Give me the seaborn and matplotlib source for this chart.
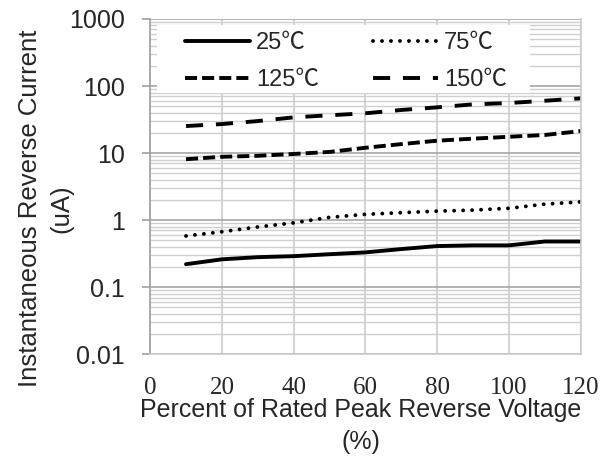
import numpy as np
import pandas as pd
import matplotlib
matplotlib.use("Agg")
import matplotlib.pyplot as plt
import seaborn as sns
from matplotlib.patches import Rectangle
from matplotlib.ticker import FixedLocator, FuncFormatter, LogLocator, NullFormatter

# --- data ---
voltage_pct = [10, 20, 30, 40, 50, 60, 70, 80, 90, 100, 110, 120]
current_25c = [0.22, 0.26, 0.28, 0.29, 0.31, 0.33, 0.37, 0.41, 0.42, 0.42, 0.48, 0.48]
current_75c = [0.58, 0.67, 0.79, 0.91, 1.10, 1.22, 1.29, 1.36, 1.41, 1.50, 1.73, 1.87]
current_125c = [8.1, 8.8, 9.1, 9.7, 10.4, 12.0, 13.6, 15.3, 16.4, 17.5, 18.6, 21.3]
current_150c = [25.3, 27.1, 30.0, 34.1, 36.6, 39.2, 43.9, 48.1, 53.3, 55.8, 60.3, 65.5]
temp_labels = ["25℃", "75℃", "125℃", "150℃"]
x_ticks = [0, 20, 40, 60, 80, 100, 120]
y_ticks = [0.01, 0.1, 1, 10, 100, 1000]

series = [current_25c, current_75c, current_125c, current_150c]
df = pd.concat(
    [pd.DataFrame({"Voltage": voltage_pct, "Current": vals, "Temp": lab})
     for lab, vals in zip(temp_labels, series)],
    ignore_index=True,
)

sns.set_style("white")
plt.rcParams["font.family"] = ["Liberation Sans", "Noto Sans CJK SC", "DejaVu Sans"]

fig = plt.figure(figsize=(6.03, 4.63), dpi=100)
ax = fig.add_axes([0.249, 0.235, 0.714, 0.724])

LW = 2.8
dash_styles = {
    "25℃": "",
    "75℃": (0.01, 2.3),
    "125℃": (3.1, 1.3),
    "150℃": (4.4, 3.3),
}
sns.lineplot(data=df, x="Voltage", y="Current", style="Temp", dashes=dash_styles,
             color="black", linewidth=LW, ax=ax, legend=True)
# dotted series: round caps so the tiny dashes become dots
data_lines = ax.get_lines()
data_lines[temp_labels.index("75℃")].set_dash_capstyle("round")

ax.set_yscale("log")
ax.set_xlim(0, 120)
ax.set_ylim(0.01, 1000)

# grid: vertical at x majors, horizontal at every log minor step
ax.xaxis.set_major_locator(FixedLocator(x_ticks))
ax.yaxis.set_major_locator(FixedLocator(y_ticks))
ax.yaxis.set_minor_locator(LogLocator(base=10, subs=np.arange(2, 10)))
ax.yaxis.set_minor_formatter(NullFormatter())
ax.yaxis.set_major_formatter(FuncFormatter(lambda v, p: f"{v:g}"))
ax.grid(True, which="major", axis="x", color="#cccccc", linewidth=1.2)
ax.grid(True, which="major", axis="y", color="#a6a6a6", linewidth=1.2)
ax.grid(True, which="minor", axis="y", color="#d0d0d0", linewidth=1.0)
ax.set_axisbelow(True)

ax.spines["left"].set_color("#a0a0a0")
ax.spines["left"].set_linewidth(1.2)
for side in ["bottom", "right"]:
    ax.spines[side].set_color("#cccccc")
    ax.spines[side].set_linewidth(1.2)
ax.spines["top"].set_visible(False)

ax.tick_params(axis="y", which="major", left=True, length=6, width=1.2,
               color="#a0a0a0", labelsize=18, pad=12)
ax.tick_params(axis="y", which="minor", left=False)
ax.tick_params(axis="x", which="major", bottom=False, labelsize=18, pad=13)
for lab in ax.get_xticklabels():
    lab.set_family("Liberation Serif")

ax.set_xlabel("Percent of Rated Peak Reverse Voltage\n(%)", fontsize=18,
              linespacing=1.45, va="top")
ax.xaxis.set_label_coords(0.49, -0.13)
ax.set_ylabel("Instantaneous Reverse Current\n(uA)", fontsize=18.5,
              linespacing=1.4)
ax.yaxis.set_label_coords(-0.178, 0.435)

# white legend panel over the grid
ax.add_patch(Rectangle((0.016, 0.779), 0.866, 0.203, transform=ax.transAxes,
                       facecolor="white", edgecolor="none", zorder=2.5))

handles, labels = ax.get_legend_handles_labels()
lookup = dict(zip(labels, handles))
order = ["25℃", "125℃", "75℃", "150℃"]
leg = ax.legend([lookup[k] for k in order], order, ncol=2, loc="upper left",
                bbox_to_anchor=(0.081, 0.96), frameon=False,
                fontsize=17, handlelength=2.75, handletextpad=0.25,
                columnspacing=2.3, borderpad=0, borderaxespad=0,
                labelspacing=0.62)
leg.set_zorder(3)
for line in leg.get_lines():
    line.set_linewidth(LW)
    if line.get_label() == "75℃":
        line.set_dash_capstyle("round")

fig.savefig("out.png", dpi=100)
